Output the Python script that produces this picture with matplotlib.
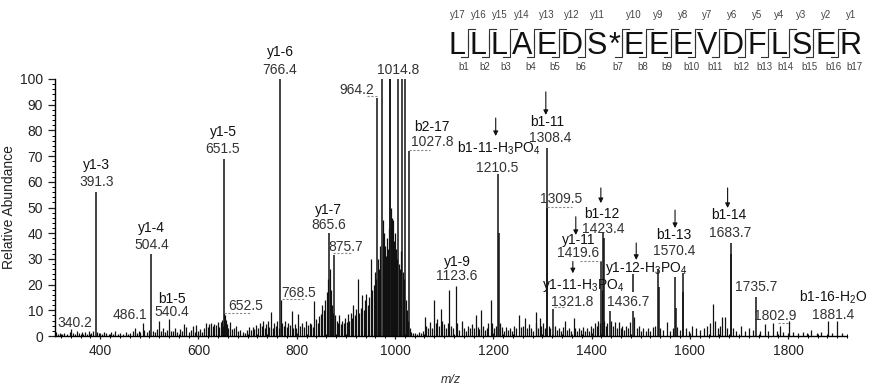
import numpy as np
import matplotlib
matplotlib.use('Agg')
import matplotlib.pyplot as plt
from matplotlib.ticker import MultipleLocator
from matplotlib.font_manager import FontProperties

plt.rcParams['font.family'] = ['Liberation Sans', 'DejaVu Sans']
plt.rcParams['mathtext.default'] = 'regular'

# ---- labelled / main peaks (m/z, relative abundance) ----
main_mz = [391.3, 504.4, 651.5, 766.4, 865.6, 875.7, 964.2, 972.6, 989.6, 990.6,
           1006.5, 1014.8, 1020.0, 1027.8, 1210.5, 1211.5, 1308.4, 1309.5, 1321.8,
           1419.6, 1423.4, 1424.4, 1436.7, 1485.0, 1536.0, 1537.0, 1570.4, 1571.4,
           1586.0, 1587.0, 1683.7, 1684.7, 1735.7]
main_int = [56, 32, 69, 100, 40, 31.5, 92.6, 100, 100, 100,
            100, 100, 100, 72, 63, 40, 73, 50, 10.5,
            29, 40, 38, 11, 24, 26, 19, 23, 11,
            24.5, 17, 36, 32, 15]

# ---- background peaks ----
noise_mz = [310, 314, 318, 322, 327, 333, 338, 340.2, 344, 349, 352, 357, 362, 366, 370, 374,
            378, 382, 386, 394, 398,
            403, 408, 412, 417, 421, 426, 431, 436, 441, 446, 452, 457, 461, 466, 470, 474,
            478, 482, 486.1, 490, 495, 499,
            508, 512, 516, 520, 524, 528, 532, 536, 540.4, 544, 548, 552, 557, 562, 566,
            570, 575, 580, 584, 588, 592, 596, 600, 604, 608, 612, 616, 619, 622, 626,
            629, 632, 636, 639, 642, 645, 648, 650, 652.5, 654, 656, 658, 661, 664, 668,
            672, 676, 680, 685, 690, 694, 698,
            702, 706, 710, 714, 718, 722, 726, 729, 732, 735, 738, 741, 744, 748, 751,
            754, 757, 760, 763, 768.5, 771, 774, 777, 780, 783, 786, 790, 793, 796, 799,
            802, 806, 810, 814, 818, 822, 826, 830, 834, 836, 840, 843, 846, 849, 852,
            855, 858, 861, 863, 867, 869, 871, 873, 878, 881, 884, 887, 890, 893, 896,
            899, 902, 904, 907, 910, 913, 915, 918, 921, 924, 927, 930, 933, 936, 939,
            942, 945, 948, 951, 954, 957, 960, 962, 966, 968, 970, 974.7, 977, 979,
            981.5, 984, 986, 988, 992, 994, 995, 998, 1000, 1002, 1004, 1008, 1010,
            1012, 1016, 1018, 1022, 1024, 1026, 1030, 1033, 1036, 1040, 1044, 1048,
            1052, 1056, 1061, 1064, 1068, 1072, 1076, 1079.5, 1083, 1086, 1090, 1093,
            1096, 1100, 1104, 1107, 1110, 1114, 1118, 1123.6, 1127, 1131, 1137, 1141,
            1145, 1149, 1153, 1157, 1160, 1164, 1168, 1172, 1175.5, 1179, 1183, 1187,
            1190, 1194.5, 1198, 1202, 1206, 1214, 1218, 1222, 1226, 1230, 1234, 1238,
            1242, 1246, 1252, 1256, 1260, 1265.5, 1269, 1273, 1277, 1281, 1286, 1288,
            1291, 1294.5, 1298, 1302, 1305, 1313, 1316, 1325, 1329, 1333, 1337, 1341,
            1347, 1351, 1355, 1359, 1363.5, 1367, 1371, 1375, 1379, 1383, 1387, 1391,
            1395, 1399, 1403, 1407, 1411, 1414, 1417, 1421, 1426, 1429, 1432, 1440,
            1443, 1447, 1451, 1455, 1459, 1463, 1467, 1471, 1475, 1478, 1487, 1492,
            1496, 1500, 1505, 1510, 1515, 1520, 1525, 1530, 1540, 1545, 1553, 1560,
            1565, 1575, 1580, 1592, 1598, 1604, 1612, 1620, 1628, 1636, 1642, 1646.7,
            1651, 1658, 1662, 1666.5, 1671, 1676, 1688, 1695, 1703.8, 1712, 1720, 1728,
            1742, 1753, 1760, 1770, 1777, 1783.5, 1790, 1802.9, 1810, 1820, 1830, 1838,
            1847.6, 1858, 1868, 1881.4, 1890, 1899, 1910]
noise_int = [1.5, 0.8, 1.2, 0.6, 1.0, 0.7, 1.5, 2.8, 1.2, 0.6, 1.8, 1.0, 1.6, 0.8, 1.4, 0.9,
             1.8, 1.0, 2.0, 1.5, 1.0,
             0.8, 1.5, 1.0, 0.7, 1.4, 0.8, 1.8, 0.7, 1.2, 0.9, 1.6, 0.8, 1.0, 1.8, 3.0, 1.2,
             2.0, 1.5, 5.0, 2.2, 1.6, 2.5,
             2.0, 1.5, 2.6, 5.8, 2.0, 3.0, 1.5, 2.4, 6.8, 2.0, 1.8, 3.2, 1.4, 2.6, 1.8,
             4.5, 3.6, 1.6, 2.4, 3.8, 1.6, 4.2, 2.0, 2.8, 1.6, 3.0, 5.0, 3.4, 4.6, 5.0,
             3.8, 4.8, 4.2, 5.6, 3.6, 5.4, 6.2, 4.0, 9.0, 8.0, 6.2, 4.5, 3.0, 5.6, 2.6,
             3.2, 4.0, 1.8, 2.2, 1.6, 1.2, 2.5,
             3.4, 2.2, 3.6, 2.6, 4.2, 3.0, 5.0, 3.8, 5.8, 3.2, 4.6, 6.0, 3.6, 9.2, 3.0,
             5.2, 4.0, 5.8, 3.2, 14.0, 5.0, 4.0, 6.0, 3.6, 5.0, 4.2, 9.6, 3.2, 4.6, 3.0,
             8.5, 4.0, 5.2, 3.4, 6.0, 4.2, 5.0, 4.8, 3.6, 13.5, 6.5, 5.0, 7.8, 8.5, 12.0,
             10.0, 14.0, 17.0, 22.0, 26.0, 18.0, 12.0, 9.0, 8.0, 6.0, 5.0, 8.0, 4.5, 6.0, 5.0,
             7.0, 5.5, 8.5, 6.0, 9.0, 7.0, 12.0, 8.0, 10.5, 22.0, 9.0, 11.0, 16.0, 10.0, 14.0,
             16.5, 12.0, 15.0, 30.0, 18.0, 20.0, 25.0, 22.0, 30.0, 26.0, 35.0, 45.0, 40.0, 35.0,
             31.0, 38.0, 34.0, 42.0, 50.0, 46.0, 45.0, 37.0, 40.0, 34.0, 30.0, 28.0, 26.0,
             33.0, 25.0, 22.0, 14.0, 10.0, 6.0, 3.0, 1.5, 1.0, 1.2, 0.8, 1.5,
             1.0, 2.0, 7.5, 4.0, 3.2, 5.6, 3.0, 14.0, 5.0, 6.5, 4.0, 10.5,
             6.0, 4.5, 3.0, 5.0, 18.0, 4.0, 3.0, 19.5, 5.0, 2.5, 6.0, 3.0,
             2.0, 4.0, 3.0, 4.6, 3.0, 8.0, 3.5, 2.6, 10.0, 4.0, 2.5, 3.0,
             5.0, 14.0, 5.0, 3.0, 4.0, 5.0, 3.5, 2.0, 3.6, 2.4, 3.0, 2.0,
             4.0, 3.0, 8.0, 3.5, 4.0, 7.0, 3.0, 4.5, 3.0, 2.0, 5.0, 9.5,
             3.0, 7.0, 4.0, 5.0, 3.0, 4.0, 3.0, 4.0, 2.5, 3.0, 2.0, 3.5,
             6.0, 2.5, 3.0, 2.0, 7.0, 3.0, 2.0, 3.0, 2.5, 3.4, 2.0, 3.0,
             2.0, 4.0, 3.0, 5.0, 4.0, 6.0, 5.0, 18.0, 6.0, 4.0, 5.0, 6.0,
             4.0, 5.5, 3.0, 5.5, 3.0, 4.0, 2.5, 4.0, 3.0, 5.5, 7.5, 3.0,
             4.0, 2.0, 3.0, 2.0, 3.0, 2.0, 3.5, 4.0, 3.0, 2.5, 5.5, 2.0,
             3.0, 3.5, 2.5, 3.0, 2.0, 4.0, 3.0, 2.5, 3.0, 4.0, 5.0, 12.5,
             6.0, 3.0, 4.0, 7.5, 7.5, 3.0, 3.0, 2.0, 4.0, 2.0, 3.0, 2.5,
             2.0, 4.5, 2.0, 5.0, 2.0, 4.0, 1.5, 6.0, 1.5, 1.0, 1.5, 1.0,
             2.5, 1.0, 1.5, 6.0, 1.0, 6.0, 1.0]

# ---- annotations ----
ion_names = ['y1-3', 'y1-4', 'b1-5', 'y1-5', 'y1-6', 'y1-7', 'b2-17', 'y1-9',
             'b1-11-H$_3$PO$_4$', 'b1-11', 'b1-12', 'y1-11', 'y1-11-H$_3$PO$_4$',
             'y1-12-H$_3$PO$_4$', 'b1-13', 'b1-14', 'b1-16-H$_2$O']
ion_pos = [(393, 66.5), (505, 42), (546, 14.4), (650, 79.5), (766, 110.6), (864.6, 49),
           (1075, 81.4), (1126, 28.9), (1211, 73), (1309, 83.4), (1421, 47.5),
           (1373, 37.4), (1383, 19.8), (1512, 26.3), (1568, 39.3), (1679, 47),
           (1892, 15)]

mz_labels = ['340.2', '391.3', '486.1', '504.4', '540.4', '651.5', '652.5', '766.4',
             '768.5', '865.6', '875.7', '964.2', '1014.8', '1027.8', '1123.6', '1210.5',
             '1308.4', '1309.5', '1321.8', '1419.6', '1423.4', '1436.7', '1570.4',
             '1683.7', '1735.7', '1802.9', '1881.4']
mz_label_pos = [(349, 5), (393, 60), (461, 8.2), (505, 35.4), (546, 9.3), (650, 72.6),
                (697, 11.7), (766, 103.5), (803.5, 16.9), (864.6, 43), (900, 34.7),
                (922, 95.7), (1007, 103.5), (1075, 75.6), (1126, 23.3), (1207, 65.2),
                (1315, 77.2), (1339, 53.3), (1360, 13.4), (1373, 32.2), (1424, 41.5),
                (1475, 13.4), (1568, 33.2), (1682, 40.2), (1736, 19), (1774, 7.8),
                (1892, 8.2)]

# dotted leaders: (x0, x1, y)
leaders = [(652.5, 706, 9), (770, 817, 14.4), (874, 913, 32.4), (943, 966, 93.4),
           (1029, 1072, 72.4), (1309, 1360, 50.3), (1324, 1346, 11.4),
           (1377, 1420, 29), (1438, 1472, 12.7), (1780, 1804, 5)]

# arrows: (x, y_start, y_end)
arrows = [(1205, 84.8, 77.8), (1307, 95, 86), (1419, 57.6, 51.7), (1368, 46.4, 39.3),
          (1362, 29, 24.4), (1491, 36.2, 29.6), (1570, 49, 42), (1677, 57.6, 49.8)]

sequence = list('LLLAEDS*EEEVDFLSER')

# ---- figure ----
fig = plt.figure(figsize=(8.7, 3.85), dpi=100)
ax = fig.add_axes([55 / 870, 49 / 385, 792 / 870, 257 / 385])

ax.vlines(noise_mz, 0, noise_int, color='#111111', lw=0.9)
ax.vlines(main_mz, 0, main_int, color='#111111', lw=1.1)

ax.set_xlim(308, 1920)
ax.set_ylim(0, 100)
ax.xaxis.set_major_locator(MultipleLocator(200))
ax.xaxis.set_minor_locator(MultipleLocator(20))
ax.yaxis.set_major_locator(MultipleLocator(10))
ax.yaxis.set_minor_locator(MultipleLocator(2))
ax.tick_params(axis='both', which='major', labelsize=10, length=5, width=0.9,
               colors='#222222')
ax.tick_params(axis='both', which='minor', length=2.5, width=0.7)
ax.tick_params(axis='x', which='both', direction='inout')
for s in ['top', 'right']:
    ax.spines[s].set_visible(False)
for s in ['left', 'bottom']:
    ax.spines[s].set_linewidth(1.0)
ax.set_ylabel('Relative Abundance', fontsize=10, color='#222222', labelpad=3)

for name, (x, y) in zip(ion_names, ion_pos):
    ax.text(x, y, name, ha='center', va='center', fontsize=10, color='#111111',
            clip_on=False)
for lab, (x, y) in zip(mz_labels, mz_label_pos):
    kw = {}
    if lab == '1436.7':
        kw['bbox'] = dict(facecolor='white', edgecolor='none', pad=1.5)
    ax.text(x, y, lab, ha='center', va='center', fontsize=10, color='#333333',
            clip_on=False, **kw)
for x0, x1, y in leaders:
    ax.plot([x0, x1], [y, y], ls=(0, (2, 1.5)), color='#888888', lw=0.8)
for x, y0, y1 in arrows:
    ax.annotate('', xy=(x, y1), xytext=(x, y0), annotation_clip=False,
                arrowprops=dict(arrowstyle='-|>', color='#111111', lw=0.8,
                                mutation_scale=7, shrinkA=0, shrinkB=0))

fig.text(451 / 870, 1 - 374 / 385, 'm/z', ha='center', va='top', fontsize=9,
         style='italic', color='#333333')

# ---- peptide sequence header (pixel coordinates) ----
hdr = fig.add_axes([0, 0, 1, 1], facecolor='none')
hdr.set_xlim(0, 870)
hdr.set_ylim(385, 0)
hdr.axis('off')

prop = FontProperties(family='Liberation Sans', size=22)
renderer = fig.canvas.get_renderer()
gap = 4.0
x = 449.0
base_y = 54.0
cap_h = 22.0
residue_x = []
edges = []
for i, ch in enumerate(sequence):
    w, h, d = renderer.get_text_width_height_descent(ch, prop, ismath=False)
    hdr.text(x + w / 2, base_y, ch, ha='center', va='baseline', fontproperties=prop,
             color='#111111')
    if ch != '*':
        residue_x.append(x + w / 2)
    x += w
    nxt = sequence[i + 1] if i + 1 < len(sequence) else None
    if nxt == '*':
        x += 1.0
    elif nxt is not None:
        edges.append(x + gap / 2)
        x += gap

top_y = base_y - cap_h - 3
bot_y = base_y + 3
for ex in edges:
    hdr.plot([ex + 7, ex, ex], [top_y, top_y, base_y - 6], color='#333333', lw=0.8)
    hdr.plot([ex - 7, ex, ex], [bot_y, bot_y, top_y + 6], color='#333333', lw=0.8)

n = len(residue_x)
for i, rx in enumerate(residue_x):
    hdr.text(rx, 15, 'y%d' % (n - i), ha='center', va='center', fontsize=7,
             color='#444444')
b_x = edges + [residue_x[-1] + 8]
for i, bx in enumerate(b_x):
    hdr.text(bx - 4, 67, 'b%d' % (i + 1), ha='center', va='center', fontsize=7,
             color='#444444')

fig.savefig('out.png', dpi=100)
